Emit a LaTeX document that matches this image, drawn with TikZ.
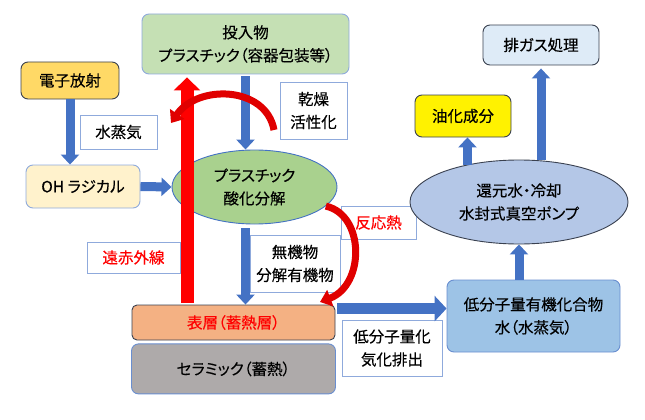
\documentclass[tikz,border=0pt]{standalone}
\usepackage{fontspec}
\setmainfont{Noto Sans CJK JP}[RawFeature=+palt,FakeBold=0.3]
\usetikzlibrary{arrows.meta,positioning,calc,shapes.geometric}
\definecolor{arrBlue}{HTML}{4472C4}
\definecolor{lineBlue}{HTML}{8FAADC}
\definecolor{darkLine}{HTML}{3A4150}
\definecolor{heatRed}{HTML}{E00000}
\definecolor{inFill}{HTML}{C5E0B4}
\definecolor{ebFill}{HTML}{FFD966}
\definecolor{ohFill}{HTML}{FFF2CC}
\definecolor{oxFill}{HTML}{A9D18E}
\definecolor{surfFill}{HTML}{F4B183}
\definecolor{cerFill}{HTML}{AEAAAA}
\definecolor{lowFill}{HTML}{9DC3E6}
\definecolor{pumpFill}{HTML}{B4C7E7}
\definecolor{exhFill}{HTML}{DEEBF7}

\begin{document}
\begin{tikzpicture}[x=1pt,y=-1pt,
  every node/.style={font=\fontsize{15.5}{23}\selectfont,align=center,inner sep=0pt},
  box/.style={draw=lineBlue,rounded corners=7pt,line width=0.9pt},
  note/.style={draw=lineBlue,fill=white,line width=0.9pt},
  blk/.style={line width=9pt,color=arrBlue,-{Triangle[width=18pt,length=10pt]}},
  irarr/.style={line width=13pt,color=red,-{Triangle[width=26pt,length=13pt]}},
  heat/.style={line width=7pt,color=heatRed,-{Triangle[width=17pt,length=11pt]}}
]
\useasboundingbox (0,0) rectangle (645,420);

% left side
\node[box,fill=inFill,minimum width=207pt,minimum height=60pt] (in) at (245.5,44) {投入物\\プラスチック（容器包装等）};
\node[box,draw=darkLine,fill=ebFill,minimum width=98pt,minimum height=37pt] (eb) at (70,80.5) {電子放射};
\node[box,fill=ohFill,minimum width=114pt,minimum height=43pt] (oh) at (83,186.5) {OH ラジカル};
\node[note,minimum width=77pt,minimum height=34pt] (vap) at (118.5,132) {水蒸気};
\node[ellipse,draw=arrBlue,fill=oxFill,line width=0.9pt,minimum width=165pt,minimum height=74pt] (ox) at (254.5,187) {プラスチック\\酸化分解};
\node[note,minimum width=67pt,minimum height=57pt] (dry) at (313.5,110.5) {乾燥\\活性化};
\node[note,text=red,minimum width=93pt,minimum height=31pt] (far) at (133.5,257.5) {遠赤外線};
\node[note,minimum width=90pt,minimum height=57pt] (inorg) at (295,263.5) {無機物\\分解有機物};
\node[note,text=red,minimum width=75pt,minimum height=33pt] (rh) at (378.5,222.5) {反応熱};
\node[box,rounded corners=5pt,draw=darkLine,fill=surfFill,text=red,minimum width=203pt,minimum height=35pt] (surf) at (233.5,322.5) {表層（蓄熱層）};
\node[box,draw=arrBlue!80,fill=cerFill,minimum width=204pt,minimum height=50pt,below=3pt of surf] (cer) {セラミック（蓄熱）};

% right side
\node[note,minimum width=100pt,minimum height=56pt] (lg) at (392,348) {低分子量化\\気化排出};
\node[box,draw=arrBlue!80,fill=lowFill,minimum width=173pt,minimum height=72pt] (low) at (533.5,316) {低分子量有機化合物\\水（水蒸気）};
\node[ellipse,draw=darkLine,fill=pumpFill,line width=0.9pt,minimum width=218pt,minimum height=84pt] (pump) at (519,202) {還元水・冷却\\水封式真空ポンプ};
\node[box,draw=darkLine,fill=yellow,minimum width=96pt,minimum height=42pt] (oil) at (463,116) {油化成分};
\node[box,draw=darkLine,fill=exhFill,minimum width=116pt,minimum height=40pt] (exh) at (541,45) {排ガス処理};

% arrows
\coordinate (irx) at (187,0);
\coordinate (rs) at ($(surf.north east)+(2,4)$);
\draw[blk] (eb.south) -- (eb.south |- oh.north);
\draw[blk] (oh.east) -- (ox.west);
\draw[blk,shorten <=2pt] (in.south) -- (in.south |- ox.north);
\draw[blk,shorten <=4pt] (in.south |- ox.south) -- (in.south |- surf.north);
\draw[irarr,shorten <=2pt,shorten >=3pt] (irx |- surf.north) -- (irx |- in.south);
\draw[blk,line width=11pt,-{Triangle[width=25pt,length=12pt]}] (rs) -- (rs -| low.west);
\draw[blk] (low.north -| pump.south) -- (pump.south);
\draw[blk] (pump.144) -- (pump.144 |- oil.south);
\draw[blk,shorten >=3pt] (exh.south |- pump.north) -- (exh.south);

% heat flows
\coordinate (d1) at (274,130);
\coordinate (d2) at (171,123);
\coordinate (h2) at (320,302);
\draw[heat] (d1) .. controls (266,86) and (198,84) .. (d2);
\draw[heat] (ox.-15) .. controls (365,215) and (365,285) .. (h2);
\end{tikzpicture}
\end{document}
